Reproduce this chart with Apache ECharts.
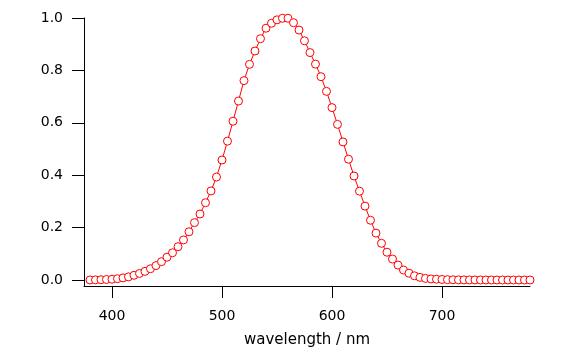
<!DOCTYPE html>
<html>
<head>
<meta charset="utf-8">
<script src="https://cdn.jsdelivr.net/npm/echarts@6/dist/echarts.min.js"></script>
<style>html,body{margin:0;padding:0;background:#fff}#c{width:573px;height:348px}</style>
</head>
<body>
<div id="c"></div>
<script>
var wavelengths = [];
for (var w = 380; w <= 780; w += 5) wavelengths.push(w);
var values = [
  0.0002, 0.0005, 0.001, 0.002, 0.003, 0.005, 0.008, 0.012, 0.018, 0.025,
  0.033, 0.043, 0.055, 0.070, 0.087, 0.104, 0.127, 0.153, 0.184, 0.219,
  0.252, 0.295, 0.340, 0.393, 0.458, 0.530, 0.606, 0.683, 0.761, 0.823,
  0.874, 0.921, 0.961, 0.980, 0.993, 0.999, 0.999, 0.982, 0.954, 0.913,
  0.868, 0.824, 0.776, 0.720, 0.658, 0.594, 0.527, 0.461, 0.397, 0.339,
  0.282, 0.228, 0.179, 0.140, 0.106, 0.080, 0.057, 0.038, 0.026, 0.016,
  0.010, 0.006, 0.004, 0.003, 0.002, 0.0013, 0.001, 0.0006, 0.0004, 0.0003,
  0.0002, 0.0001, 0.0001, 0.0001, 0, 0, 0, 0, 0, 0, 0
];
var xTicks = [400, 500, 600, 700];
var yTicks = [0, 0.2, 0.4, 0.6, 0.8, 1.0];
var xName = 'wavelength / nm';

var data = wavelengths.map(function (w, i) { return [w, values[i]]; });
var font = 'DejaVu Sans';
var chart = echarts.init(document.getElementById('c'), null, {renderer: 'canvas'});
chart.setOption({
  animation: false,
  backgroundColor: '#fff',
  grid: {left: 84, right: 43, top: 18, bottom: 62, containLabel: false, outerBoundsMode: 'none'},
  xAxis: {
    type: 'value', min: 374.55, max: 780,
    name: xName, nameLocation: 'middle', nameGap: 47,
    nameTextStyle: {color: '#000', fontFamily: font, fontSize: 15},
    axisLine: {onZero: false, lineStyle: {color: '#000', width: 1}},
    axisTick: {show: true, length: 12, customValues: xTicks, lineStyle: {color: '#000'}},
    axisLabel: {customValues: xTicks, margin: 23, color: '#000', fontFamily: font, fontSize: 14,
      formatter: function (v) { return String(v); }},
    splitLine: {show: false}
  },
  yAxis: {
    type: 'value', min: -0.0229, max: 1.0,
    axisLine: {show: true, onZero: false, lineStyle: {color: '#000', width: 1}},
    axisTick: {show: true, length: 12, customValues: yTicks, lineStyle: {color: '#000'}},
    axisLabel: {customValues: yTicks, margin: 21, color: '#000', fontFamily: font, fontSize: 14,
      formatter: function (v) { return v.toFixed(1); }},
    splitLine: {show: false}
  },
  series: [{
    type: 'line', data: data,
    symbol: 'circle', symbolSize: 8, showAllSymbol: true,
    lineStyle: {color: '#ff0000', width: 1},
    itemStyle: {color: '#fff', borderColor: '#ff0000', borderWidth: 1}
  }]
});
</script>
</body>
</html>
